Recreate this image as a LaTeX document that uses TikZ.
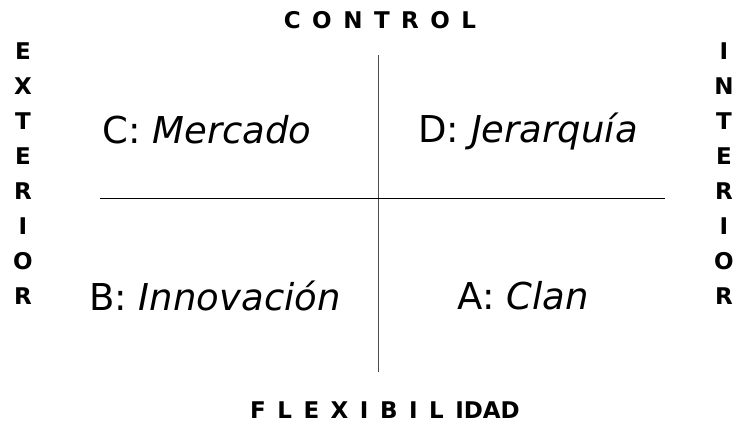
\documentclass[tikz,border=0pt]{standalone}
\usepackage{fontspec}
\setmainfont{DejaVu Sans}
\usetikzlibrary{positioning}
\newcommand\widespace{\spaceskip=11.5pt\relax}
\begin{document}
\begin{tikzpicture}[x=1pt,y=-1pt,
		every node/.style = {inner sep=0pt, align=center},
		axis/.style = {font=\fontsize{23}{35}\selectfont\bfseries\widespace},
		quad/.style = {font=\fontsize{37}{40}\selectfont}]

	\useasboundingbox (0,0) rectangle (741,431);

	% ends of the two axes
	\coordinate (top) at (378,55);
	\coordinate (bottom) at (378,372);
	\coordinate (left) at (100,198);
	\coordinate (right) at (665,198);

	\node[axis] (control) at (380,20) {C O N T R O L};
	\node[axis] (flexibilidad) at (385,410) {F L E X I B I L IDAD};
	\node[axis] (exterior) at (23,174) {E\\X\\T\\E\\R\\I\\O\\R};
	\node[axis] (interior) at (724,174) {I\\N\\T\\E\\R\\I\\O\\R};

	\node[quad] (mercado) at (207,130) {C: \textit{Mercado}};
	\node[quad] (jerarquia) at (528,132) {D: \textit{Jerarquía}};
	\node[quad] (innovacion) at (215,296) {B: \textit{Innovación}};
	\node[quad] (clan) at (523,296) {A: \textit{Clan}};

	\draw[gray!60!black] (top) -- (bottom);
	\draw (left) -- (right);
\end{tikzpicture}
\end{document}
